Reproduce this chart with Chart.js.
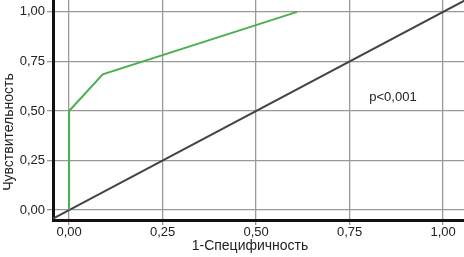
<!DOCTYPE html>
<html>
<head>
<meta charset="utf-8">
<script src="https://cdn.jsdelivr.net/npm/chart.js@4.4.1/dist/chart.umd.min.js"></script>
<style>
  html, body { margin: 0; padding: 0; background: #fff; overflow: hidden; }
</style>
</head>
<body>
<canvas id="roc" width="464" height="257"></canvas>
<script>
// ROC curve points (1-specificity, sensitivity)
const rocX = [0, 0, 0.09, 0.61];
const rocY = [0, 0.5, 0.685, 1.0];
// reference diagonal
const diagX = [-0.05, 1.07];
const diagY = [-0.05, 1.07];
const tickValues = [0, 0.25, 0.5, 0.75, 1];
const xTitle = '1-Специфичность';
const yTitle = 'Чувствительность';
const pText = 'p<0,001';

const FONT = "'Liberation Sans Narrow', 'Liberation Sans', Arial, sans-serif";
const fmt = v => v.toFixed(2).replace('.', ',');

const labelsPlugin = {
    id: 'labels',
    afterDraw(chart) {
        const ctx = chart.ctx;
        const xs = chart.scales.x, ys = chart.scales.y;
        ctx.save();
        ctx.fillStyle = '#222';
        ctx.font = '14px ' + FONT;
        ctx.textAlign = 'center';
        ctx.textBaseline = 'middle';
        ctx.fillText(xTitle, 250, 246);
        ctx.translate(9, 132);
        ctx.rotate(-Math.PI / 2);
        ctx.fillText(yTitle, 0, 0);
        ctx.restore();

        ctx.save();
        ctx.fillStyle = '#222';
        ctx.font = '13px ' + FONT;
        ctx.textAlign = 'center';
        ctx.textBaseline = 'middle';
        ctx.fillText(pText, xs.getPixelForValue(0.866), ys.getPixelForValue(0.57));
        ctx.restore();
    }
};

new Chart(document.getElementById('roc'), {
    type: 'scatter',
    data: {
        datasets: [
            {
                data: rocX.map((x, i) => ({x: x, y: rocY[i]})),
                showLine: true,
                borderColor: '#4caf50',
                borderWidth: 2,
                pointRadius: 0,
                tension: 0,
            },
            {
                data: diagX.map((x, i) => ({x: x, y: diagY[i]})),
                showLine: true,
                borderColor: '#444444',
                borderWidth: 2,
                pointRadius: 0,
            }
        ]
    },
    plugins: [labelsPlugin],
    options: {
        responsive: false,
        animation: false,
        layout: { padding: 0 },
        plugins: { legend: { display: false }, tooltip: { enabled: false } },
        scales: {
            x: {
                type: 'linear',
                min: -0.043,
                max: 1.056,
                afterBuildTicks: s => { s.ticks = tickValues.map(v => ({value: v})); },
                afterFit: s => { s.height = 37; s.paddingRight = 0; s.paddingLeft = 0; },
                border: { color: '#111', width: 3 },
                grid: { color: '#999', lineWidth: 1.3, tickLength: 5 },
                ticks: {
                    color: '#222',
                    font: { family: FONT, size: 13 },
                    padding: 0,
                    maxRotation: 0,
                    callback: v => fmt(v)
                }
            },
            y: {
                type: 'linear',
                min: -0.05,
                max: 1.06,
                afterBuildTicks: s => { s.ticks = tickValues.map(v => ({value: v})); },
                afterFit: s => { s.width = 53; s.paddingTop = 0; s.paddingBottom = 0; },
                border: { color: '#111', width: 3 },
                grid: { color: '#999', lineWidth: 1.3, tickLength: 6 },
                ticks: {
                    color: '#222',
                    font: { family: FONT, size: 13 },
                    padding: 2,
                    callback: v => fmt(v)
                }
            }
        }
    }
});
</script>
</body>
</html>
